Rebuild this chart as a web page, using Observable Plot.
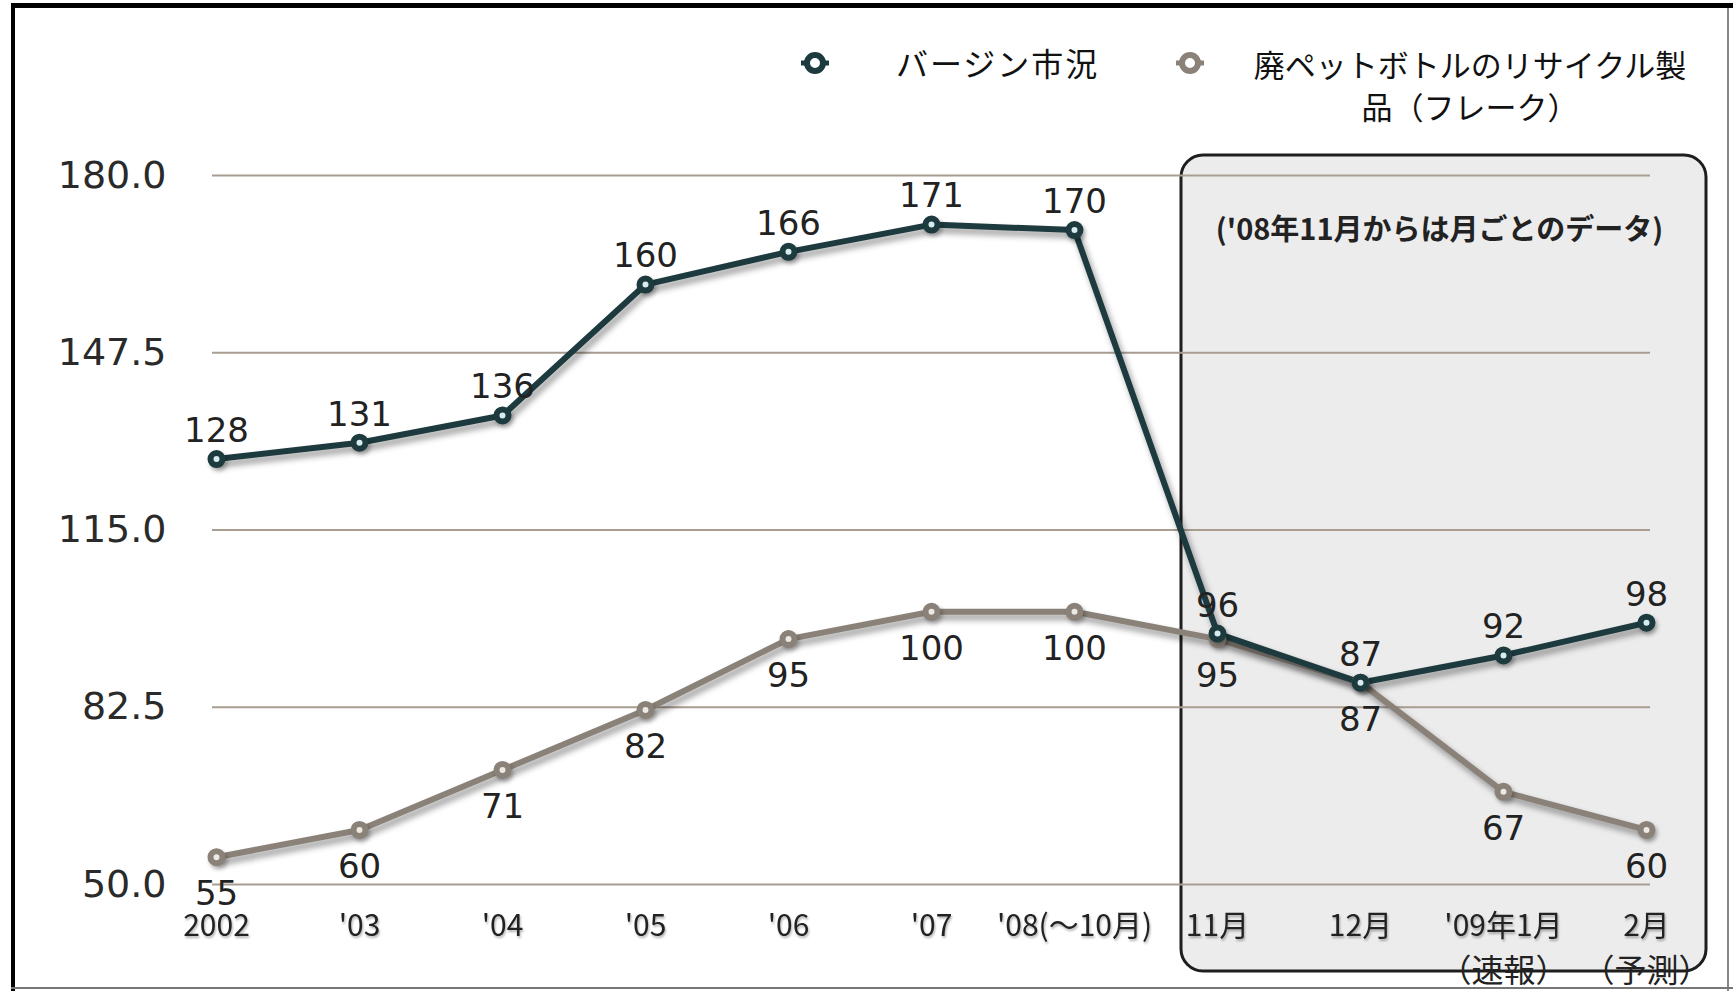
<!DOCTYPE html>
<html><head><meta charset="utf-8">
<script src="https://cdn.jsdelivr.net/npm/d3@7"></script>
<script src="https://cdn.jsdelivr.net/npm/@observablehq/plot@0.6"></script>
<style>
html,body{margin:0;padding:0;background:#fff;}
#chart{position:relative;width:1733px;height:991px;overflow:hidden;}
#chart svg{display:block;}
</style></head><body><div id="chart"></div>
<script>
// ---- data ----
const categories = ["2002","'03","'04","'05","'06","'07","'08(～10月)","11月","12月","'09年1月","2月"];
const subLabels = ["","","","","","","","","","（速報）","（予測）"];
const virgin = [128,131,136,160,166,171,170,96,87,92,98];
const recycled = [55,60,71,82,95,100,100,95,87,67,60];
const yTicks = [50,82.5,115,147.5,180];
const legendVirgin = ["バージン市況"];
const legendRecycled = ["廃ペットボトルのリサイクル製","品（フレーク）"];
const boxNote = "('08年11月からは月ごとのデータ)";
const monthlyFrom = "11月";

const cVirgin = "#1d3a3f";
const cRecycled = "#8a8178";
const jpFont = "'Noto Sans CJK JP', sans-serif";
const numFont = "'DejaVu Sans', sans-serif";

const vData = categories.map((c,i)=>({cat:c, value:virgin[i]}));
const rData = categories.map((c,i)=>({cat:c, value:recycled[i]}));

const plot = Plot.plot({
  width: 1733, height: 991,
  marginLeft: 212, marginRight: 83, marginTop: 175, marginBottom: 107,
  style: {fontFamily: numFont, fontSize: "34px", background: "transparent", color: "#222"},
  x: {type: "point", domain: categories, padding: 0, label: null},
  y: {domain: [50, 180], label: null},
  marks: [
    Plot.gridY(yTicks, {stroke: "#a99d92", strokeOpacity: 1, strokeWidth: 2}),
    Plot.axisY(yTicks, {tickSize: 0, tickPadding: 46, tickFormat: d => d.toFixed(1), fontSize: 38, fontFamily: numFont, fill: "#2a2a2a", label: null}),
    Plot.axisX({tickSize: 0, tickPadding: 30, fontSize: 30, fontFamily: jpFont, fill: "#222", label: null}),
    Plot.text(categories, {x: d => d, text: (d, i) => subLabels[i], frameAnchor: "bottom", dy: 97, fontSize: 32, fontFamily: jpFont, fill: "#222"}),
    Plot.line(rData, {x: "cat", y: "value", stroke: cRecycled, strokeWidth: 6}),
    Plot.line(vData, {x: "cat", y: "value", stroke: cVirgin, strokeWidth: 6}),
    Plot.dot(rData, {x: "cat", y: "value", r: 6, stroke: cRecycled, strokeWidth: 6, fill: "#ece8e2"}),
    Plot.dot(vData, {x: "cat", y: "value", r: 6, stroke: cVirgin, strokeWidth: 6, fill: "#d6ecee"}),
    Plot.text(vData, {x: "cat", y: "value", text: d => String(d.value), dy: -28, fontSize: 34, fontFamily: numFont, fill: "#222"}),
    Plot.text(rData, {x: "cat", y: "value", text: d => String(d.value), dy: 37, fontSize: 34, fontFamily: numFont, fill: "#222"})
  ]
});
document.getElementById("chart").appendChild(plot);

const svg = d3.select(plot);
const xs = plot.scale("x"), ys = plot.scale("y");
const xStart = xs.apply(monthlyFrom);
const xEnd = xs.apply(categories[categories.length - 1]);
const yTop = ys.apply(yTicks[yTicks.length - 1]);
const boxL = xStart - 36, boxR = xEnd + 60, boxT = yTop - 20, boxB = 971;

// monthly-data box (behind everything)
const firstG = plot.querySelector(":scope > g");
const box = document.createElementNS("http://www.w3.org/2000/svg", "rect");
plot.insertBefore(box, firstG);
d3.select(box)
  .attr("x", boxL).attr("y", boxT)
  .attr("width", boxR - boxL).attr("height", boxB - boxT)
  .attr("rx", 22).attr("ry", 22)
  .attr("fill", "#ececec").attr("stroke", "#1e1e1e").attr("stroke-width", 3);

svg.append("text")
  .attr("x", (boxL + boxR) / 2 - 4).attr("y", yTop + 65)
  .attr("text-anchor", "middle").attr("font-family", jpFont).attr("font-size", 29)
  .attr("font-weight", 700).attr("fill", "#222").text(boxNote);

// shadows
svg.selectAll('g[aria-label="line"]').style("filter", "drop-shadow(3px 5px 3px rgba(0,0,0,0.4))");
svg.selectAll('g[aria-label="dot"]').style("filter", "drop-shadow(2px 3px 2px rgba(0,0,0,0.3))");
svg.selectAll('g[aria-label="x-axis tick label"]').style("filter", "drop-shadow(1px 2px 1px rgba(0,0,0,0.3))");

// legend
function legendMarker(cx, cy, color, fill) {
  svg.append("line").attr("x1", cx - 14).attr("x2", cx + 14).attr("y1", cy).attr("y2", cy)
    .attr("stroke", color).attr("stroke-width", 5);
  svg.append("circle").attr("cx", cx).attr("cy", cy).attr("r", 8)
    .attr("stroke", color).attr("stroke-width", 6).attr("fill", fill);
}
legendMarker(815, 63, cVirgin, "#ffffff");
legendMarker(1190, 63, cRecycled, "#ffffff");
svg.append("text").attr("x", 896).attr("y", 64).attr("dy", "0.36em")
  .attr("text-anchor", "start")
  .attr("font-family", jpFont).attr("font-size", 32).attr("letter-spacing", 2).attr("fill", "#111")
  .text(legendVirgin[0]);
legendRecycled.forEach((t, i) => {
  svg.append("text").attr("x", 1470).attr("y", 66 + i * 42).attr("dy", "0.36em")
    .attr("text-anchor", "middle")
    .attr("font-family", jpFont).attr("font-size", 31).attr("fill", "#111").text(t);
});

// outer frame
svg.append("line").attr("x1", 11).attr("x2", 1733).attr("y1", 5.5).attr("y2", 5.5).attr("stroke", "#000").attr("stroke-width", 5);
svg.append("line").attr("x1", 13).attr("x2", 13).attr("y1", 3).attr("y2", 991).attr("stroke", "#000").attr("stroke-width", 4);
svg.append("line").attr("x1", 1728).attr("x2", 1728).attr("y1", 8).attr("y2", 991).attr("stroke", "#888").attr("stroke-width", 2);
svg.append("line").attr("x1", 11).attr("x2", 1733).attr("y1", 988).attr("y2", 988).attr("stroke", "#777").attr("stroke-width", 2);
</script></body></html>
